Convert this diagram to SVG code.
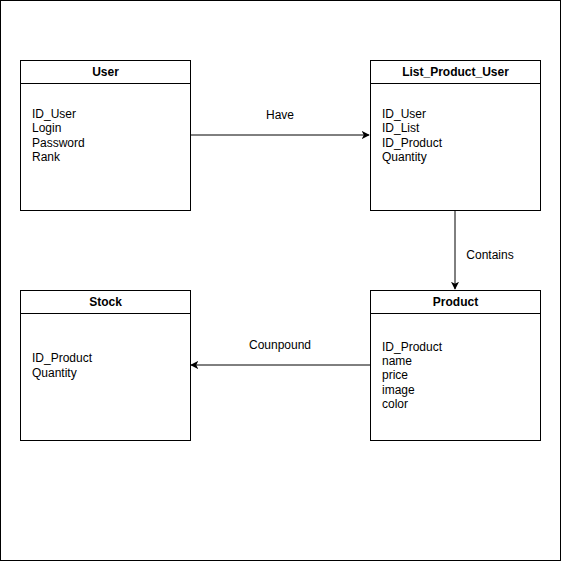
<svg xmlns="http://www.w3.org/2000/svg" width="561" height="561" viewBox="0 0 561 561">
<style>
.box{fill:#fff;stroke:#000;stroke-width:1}
.t{font-family:"Liberation Sans",Arial,sans-serif;font-size:12px;fill:#000}
.h{font-weight:bold;text-anchor:middle}
.c{text-anchor:middle}
.e{fill:none;stroke:#000;stroke-width:1}
</style>
<defs>
<marker id="arr" viewBox="0 0 10 10" refX="9" refY="5" markerWidth="8" markerHeight="8" markerUnits="userSpaceOnUse" orient="auto">
<path d="M0,0 L10,5 L0,10 L2.5,5 Z" fill="#000"/>
</marker>
</defs>
<rect x="0.5" y="0.5" width="560" height="560" fill="#fff" stroke="#000"/>
<g id="connectors">
<line class="e" x1="190" y1="135" x2="369" y2="135" marker-end="url(#arr)"/>
<text class="t c" x="280" y="119">Have</text>
<line class="e" x1="455" y1="210" x2="455" y2="289" marker-end="url(#arr)"/>
<text class="t c" x="490" y="259">Contains</text>
<line class="e" x1="370" y1="365" x2="191" y2="365" marker-end="url(#arr)"/>
<text class="t c" x="280" y="349">Counpound</text>
</g>
<g id="user">
<rect class="box" x="20.5" y="60.5" width="170" height="150"/>
<line class="e" x1="20.5" y1="83.5" x2="190.5" y2="83.5"/>
<text class="t h" x="105.5" y="76">User</text>
<text class="t" x="32" y="118">ID_User</text>
<text class="t" x="32" y="132">Login</text>
<text class="t" x="32" y="147">Password</text>
<text class="t" x="32" y="161">Rank</text>
</g>
<g id="list_product_user">
<rect class="box" x="370.5" y="60.5" width="170" height="150"/>
<line class="e" x1="370.5" y1="83.5" x2="540.5" y2="83.5"/>
<text class="t h" x="455.5" y="76">List_Product_User</text>
<text class="t" x="382" y="118">ID_User</text>
<text class="t" x="382" y="132">ID_List</text>
<text class="t" x="382" y="147">ID_Product</text>
<text class="t" x="382" y="161">Quantity</text>
</g>
<g id="stock">
<rect class="box" x="20.5" y="290.5" width="170" height="150"/>
<line class="e" x1="20.5" y1="313.5" x2="190.5" y2="313.5"/>
<text class="t h" x="105.5" y="306">Stock</text>
<text class="t" x="32" y="362">ID_Product</text>
<text class="t" x="32" y="377">Quantity</text>
</g>
<g id="product">
<rect class="box" x="370.5" y="290.5" width="170" height="150"/>
<line class="e" x1="370.5" y1="313.5" x2="540.5" y2="313.5"/>
<text class="t h" x="455.5" y="306">Product</text>
<text class="t" x="382" y="351">ID_Product</text>
<text class="t" x="382" y="365">name</text>
<text class="t" x="382" y="379">price</text>
<text class="t" x="382" y="394">image</text>
<text class="t" x="382" y="408">color</text>
</g>
</svg>
